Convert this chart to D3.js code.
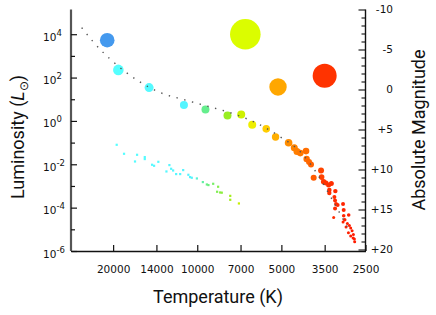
<!DOCTYPE html>
<html><head><meta charset="utf-8">
<script src="https://cdn.jsdelivr.net/npm/d3@7"></script>
<style>
body{margin:0;background:#fff;}
svg{display:block;}
.tick text{font-family:"DejaVu Sans",sans-serif;}
</style></head>
<body><svg id="c" width="436" height="315"></svg>
<script>
// ---------- data ----------
// Giants / supergiants: temperature (K), luminosity (L_sun), relative size
const giantsT = [21000, 6730, 5140, 3500];
const giantsL = [5300, 10000, 37, 120];
const giantsSize = [7.3, 15.3, 8.7, 12];

// Main sequence stars
const msT = [19160, 14870, 11160, 9346, 7795, 6962, 6358, 5664, 5245,
  4711, 4496, 4396, 4278, 4081, 4061, 3981, 3917, 3606, 3832,
  3589, 3530, 3461, 3388, 3313, 3368, 3368, 3205, 3231, 3213,
  3187, 3145, 3213, 3008, 2992, 3250, 2992, 2967, 2871, 3008,
  2902, 2855, 2824, 2934, 2792, 2878, 2762, 2824, 2769, 2740, 2733];
const msL = [226, 34.6, 5.5, 3.35, 1.77, 1.97, 0.66, 0.43, 0.18,
  0.098, 0.0575, 0.0389, 0.0328, 0.0406, 0.0174, 0.0126, 0.0098, 0.00518, 0.00239,
  0.00257, 0.00156, 0.00136, 0.0011, 0.0013, 0.00065, 0.00047, 0.00058, 0.00031, 0.000215,
  0.000147, 0.000132, 0.0000918, 0.000147, 0.0000775, 0.0000353, 0.0000424, 0.0000277, 0.0000456, 0.0000217,
  0.0000187, 0.0000151, 0.0000115, 0.0000128, 0.0000086, 0.00000697, 0.00000582, 0.00000491, 0.00000397, 0.00000357, 0.00000268];
const msSize = [5.3, 4.5, 4, 4, 4, 4, 4, 3.8, 3.7,
  3.8, 3.5, 3.5, 3.3, 3.3, 3.2, 3, 3, 3, 3,
  2.8, 2.7, 2.5, 2.5, 2.5, 2.3, 2.2, 2.2, 2, 2,
  2, 2, 2, 2, 2, 1.5, 1.8, 1.8, 1.8, 1.5,
  1.5, 1.5, 1.5, 1.5, 1.5, 1.5, 1.5, 1.5, 1.5, 1.5, 1.5];

// White dwarfs
const wdT = [19420, 18280, 16420, 16700, 15410, 15410, 14510, 14270, 13780, 12890,
  12580, 12400, 12200, 11900, 11510, 11230, 10760, 10610, 10460, 10030,
  9550, 9240, 9120, 8770, 8420, 8490, 8280, 8170, 7620, 7620, 7095];
const wdL = [0.0792, 0.0305, 0.0274, 0.01346, 0.0215, 0.0174, 0.0095, 0.00853, 0.013, 0.00466,
  0.00918, 0.00621, 0.00518, 0.00353, 0.00353, 0.0054, 0.00328, 0.00257, 0.00239, 0.00222,
  0.00151, 0.00117, 0.0011, 0.00126, 0.00092, 0.00054, 0.0005, 0.00049, 0.00035, 0.00023, 0.000156];

// Main-sequence model curve (dotted)
const lineT = [25920, 23670, 21510, 20400, 18330, 16330, 13580, 11080, 9015, 7358, 6064, 5046, 4278, 3758, 3286, 2831];
const lineL = [20140, 4760, 1276, 675, 210, 72.8, 20.4, 9.38, 4.47, 2.06, 0.735, 0.185, 0.0377, 0.00438, 0.000231, 0.00000697];

// Axis ticks
const tempTicks = [20000, 14000, 10000, 7000, 5000, 3500, 2500];
const lumTicks = [1e-6, 1e-5, 1e-4, 1e-3, 1e-2, 1e-1, 1e0, 1e1, 1e2, 1e3, 1e4];
const magTicks = d3.range(-10, 21, 1);

// Colour by temperature
const colorT = [30000, 20500, 19500, 10500, 9300, 7800, 7000, 6700, 6350, 5650, 5200, 4700, 4000, 3600, 3500, 2700];
const colorC = ["#4499ee", "#4499ee", "#55ffff", "#55f4ff", "#66ee88", "#99ee22", "#ccee00", "#ddff00", "#eeee00", "#ffcc00", "#ffaa00", "#ff8c00", "#ff6a00", "#ff4400", "#ff3300", "#ff1a00"];

// ---------- chart ----------
const svg = d3.select("#c");
const L = 71, R = 365.5, T = 9.5, B = 251;
const x = d3.scaleLog().domain([28300, 2500]).range([L, R]);
const y = d3.scaleLog().domain([1e-6, Math.pow(10, 5.14)]).range([B, T]);
const yM = d3.scaleLinear().domain([20, -10]).range([249.5, 9.5]);
const col = d3.scaleLog().domain(colorT).range(colorC).interpolate(d3.interpolateRgb).clamp(true);
const size = d3.scaleLinear().domain([0, 1]).range([0, 1]);

// White dwarfs
svg.append("g").selectAll("rect").data(d3.range(wdT.length)).join("rect")
  .attr("x", i => x(wdT[i]) - 1.1).attr("y", i => y(wdL[i]) - 1.1)
  .attr("width", 2.2).attr("height", 2.2)
  .attr("fill", i => col(wdT[i]));

// main sequence
svg.append("g").selectAll("circle").data(d3.range(msT.length)).join("circle")
  .attr("cx", i => x(msT[i])).attr("cy", i => y(msL[i])).attr("r", i => size(msSize[i]))
  .attr("fill", i => col(msT[i]));

// giants
svg.append("g").selectAll("circle").data(d3.range(giantsT.length)).join("circle")
  .attr("cx", i => x(giantsT[i])).attr("cy", i => y(giantsL[i])).attr("r", i => size(giantsSize[i]))
  .attr("fill", i => col(giantsT[i]));

// model line
const line = d3.line().x(i => x(lineT[i])).y(i => y(lineL[i])).curve(d3.curveMonotoneX);
svg.append("path").attr("d", line(d3.range(lineT.length)))
  .attr("fill", "none").attr("stroke", "#555").attr("stroke-width", 1.4)
  .attr("stroke-dasharray", "1.4,6.6");

// x axis
const gx = svg.append("g").attr("transform", `translate(0,${B})`)
  .call(d3.axisBottom(x).tickValues(tempTicks).tickFormat(d3.format("d"))
    .tickSizeInner(-6).tickSizeOuter(0).tickPadding(14.5));
gx.select(".domain").attr("stroke", "#111").attr("stroke-width", 1.4);
gx.selectAll(".tick line").attr("stroke", "#111").attr("stroke-width", 1.2);
gx.selectAll(".tick text").attr("font-size", 10.5).attr("fill", "#111");

// left axis
const gy = svg.append("g").attr("transform", `translate(${L},0)`)
  .call(d3.axisLeft(y).tickValues(lumTicks).tickSizeOuter(0).tickFormat(""));
gy.select(".domain").attr("stroke", "#555").attr("stroke-width", 2.2)
  .attr("d", `M0,${T}V${B}`);
gy.selectAll(".tick line").attr("stroke", "#111").attr("stroke-width", 1.2)
  .attr("x2", d => Math.round(Math.log10(d)) % 2 === 0 ? 6 : 4);
gy.selectAll(".tick").each(function(d) {
  const e = Math.round(Math.log10(d));
  if (e % 2 !== 0) return;
  const t = d3.select(this).select("text")
    .attr("x", -28).attr("dy", null).attr("y", 6).attr("text-anchor", "start")
    .attr("font-size", 10.5).attr("fill", "#111");
  t.text(null);
  t.append("tspan").text("10");
  t.append("tspan").attr("font-size", 8.5).attr("dy", -5).text(e < 0 ? "-" + (-e) : String(e));
});

// right axis
const gr = svg.append("g").attr("transform", `translate(${R},0)`)
  .call(d3.axisRight(yM).tickValues(magTicks).tickSizeOuter(0)
    .tickFormat(d => d % 5 === 0 ? (d > 0 ? "+" + d : String(d)) : ""));
gr.select(".domain").attr("stroke", "#111").attr("stroke-width", 1.4)
  .attr("d", `M0,${T}V${B}`);
gr.selectAll(".tick line").attr("stroke", "#111").attr("stroke-width", 1.1)
  .attr("x2", d => d % 5 === 0 ? -7 : -4);
gr.selectAll(".tick text").attr("x", 27.5).attr("text-anchor", "end")
  .attr("font-size", 10.5).attr("fill", "#111");

// titles
svg.append("text").attr("x", 218).attr("y", 303).attr("text-anchor", "middle")
  .attr("font-family", "Roboto, sans-serif").attr("font-size", 18).attr("fill", "#111")
  .text("Temperature (K)");
const yt = svg.append("text").attr("transform", "translate(24,137) rotate(-90)")
  .attr("text-anchor", "middle").attr("font-family", "Roboto, sans-serif")
  .attr("font-size", 18).attr("fill", "#111");
yt.append("tspan").text("Luminosity (");
yt.append("tspan").attr("font-style", "italic").text("L");
yt.append("tspan").attr("font-size", 12).attr("dy", 4).text("⊙");
yt.append("tspan").attr("dy", -4).text(")");
svg.append("text").attr("transform", "translate(425,130) rotate(-90)")
  .attr("text-anchor", "middle").attr("font-family", "Roboto, sans-serif")
  .attr("font-size", 18).attr("fill", "#111").text("Absolute Magnitude");
</script></body></html>
